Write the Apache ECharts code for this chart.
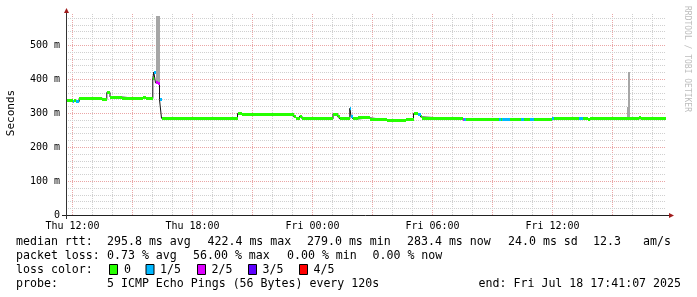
<!DOCTYPE html>
<html><head><meta charset="utf-8">
<script src="https://cdn.jsdelivr.net/npm/echarts@6/dist/echarts.min.js"></script>
<style>html,body{margin:0;padding:0;background:#fff}#c{width:697px;height:297px}</style>
</head><body><div id="c"></div>
<script>
// ---- data (time in hours since Thu 00:00, rtt in ms) ----
const tStart = 11.675;
const tEnd = 41.675;
const yMaxSec = 0.59412;

const xLabelHours = [12, 18, 24, 30, 36];
const xLabelTexts = ['Thu 12:00', 'Thu 18:00', 'Fri 00:00', 'Fri 06:00', 'Fri 12:00'];
const yLabelValues = [0, 0.1, 0.2, 0.3, 0.4, 0.5];
const yLabelTexts = ['0', '100 m', '200 m', '300 m', '400 m', '500 m'];

// median rtt segments: start hour, median ms, loss class (0..4 of 5)
const medStart = [11.675, 12.00, 12.10, 12.165, 12.335, 13.465, 13.715, 13.875, 14.45, 15.50,
  15.65, 16.015, 16.065, 16.15, 16.25, 16.35, 16.45, 20.25, 20.485, 23.065,
  23.15, 23.35, 23.475, 25.025, 25.265, 25.365, 25.865, 25.935, 26.035, 26.265,
  26.865, 27.735, 28.65, 29.05, 29.25, 29.40, 29.485, 30.90, 31.50, 31.565,
  31.665, 33.315, 33.40, 33.485, 33.865, 34.435, 34.565, 34.85, 35.05, 35.985,
  36.065, 37.315, 37.535, 37.75, 37.85, 40.335, 40.435];
const medMs = [337, 335, 337, 335, 345, 341, 362, 348.5, 343.5, 347,
  344, 402, 422, 390, 387, 341, 286, 300, 297, 290,
  285, 292, 284, 298.5, 290, 284, 315, 290, 284, 287,
  282, 279, 283, 300, 296, 290, 286, 284, 283, 283,
  282, 282, 282, 282, 282, 282, 282, 282, 282, 285,
  285, 285, 285, 282, 284.5, 288, 284.5];
const medLoss = [0, 1, 0, 1, 0, 0, 0, 0, 0, 0,
  0, 0, 1, 2, 2, 1, 0, 0, 0, 0,
  0, 0, 0, 0, 0, 0, 1, 1, 0, 0,
  0, 0, 0, 0, 1, 0, 0, 0, 2, 1,
  0, 1, 0, 1, 0, 1, 0, 1, 0, 1,
  0, 1, 0, 0, 0, 0, 0];

// smoke (ping spread) blocks
const smokeStart = [16.15, 39.735, 39.75];
const smokeEnd = [16.35, 39.865, 39.85];
const smokeLowMs = [390, 284, 320];
const smokeHighMs = [588, 320, 423];

const lossColors = ['#26ff00', '#00b8ff', '#dd00ff', '#5e00ff', '#ff0000'];
const lossLabels = ['0', '1/5', '2/5', '3/5', '4/5'];

const legendRow1 = ['median rtt:', '295.8 ms avg', '422.4 ms max', '279.0 ms min', '283.4 ms now', '24.0 ms sd', '12.3', 'am/s'];
const legendRow2 = ['packet loss:', '0.73 % avg', '56.00 % max', '0.00 % min', '0.00 % now'];
const legendRow3 = 'loss color:';
const legendRow4 = ['probe:', '5 ICMP Echo Pings (56 Bytes) every 120s'];
const legendEnd = 'end: Fri Jul 18 17:41:07 2025';

// ---- layout (pixel positions of legend items) ----
const row1X = [16, 107, 207.5, 307, 407, 508, 593, 643];
const row2X = [16, 107, 193, 287, 372.5];
const row4X = [16, 107];
const boxX = [109, 145.5, 197, 248, 299];
const boxLabelX = [124, 160, 211.5, 262.5, 313.5];

const MONO = 'DejaVu Sans Mono';
const medItems = medStart.map((s, i) => [s, i + 1 < medStart.length ? medStart[i + 1] : tEnd, medMs[i] / 1000, medLoss[i]]);
const stepData = medStart.map((s, i) => [s, medMs[i] / 1000]);
stepData.push([tEnd, medMs[medMs.length - 1] / 1000]);
const smokeItems = smokeStart.map((s, i) => [s, smokeEnd[i], smokeLowMs[i] / 1000, smokeHighMs[i] / 1000]);

// grid lines: [value, orientation(0 = vertical/hour, 1 = horizontal/seconds), major]
const gridItems = [];
for (let h = 12; h < tEnd; h++) gridItems.push([h, 0, h % 3 === 0 ? 1 : 0]);
for (let ms = 20; ms / 1000 < yMaxSec; ms += 20) gridItems.push([ms / 1000, 1, ms % 100 === 0 ? 1 : 0]);
const minorCol = '#d0d0d0', majorCol = '#eaa6a6';

const chart = echarts.init(document.getElementById('c'), null, { renderer: 'canvas' });

const legendGraphics = [];
function txt(x, y, t, extra) {
  legendGraphics.push({ type: 'text', x: x, y: y, silent: true,
    style: Object.assign({ text: t, font: '11.6px "' + MONO + '"', fill: '#000', verticalAlign: 'middle' }, extra || {}) });
}
legendRow1.forEach((t, i) => txt(row1X[i], 241.5, t));
legendRow2.forEach((t, i) => txt(row2X[i], 255.5, t));
txt(16, 269.5, legendRow3);
legendRow4.forEach((t, i) => txt(row4X[i], 283.5, t));
txt(681, 283.5, legendEnd, { align: 'right' });
lossLabels.forEach((l, i) => {
  legendGraphics.push({ type: 'rect', silent: true, shape: { x: boxX[i] + 0.5, y: 264.5, width: 8, height: 10 },
    style: { fill: lossColors[i], stroke: '#000', lineWidth: 1 } });
  txt(boxLabelX[i], 269.5, l);
});

chart.setOption({
  animation: false,
  backgroundColor: '#fff',
  grid: { left: 66, top: 13.5, width: 600, height: 202 },
  xAxis: {
    type: 'value', min: tStart, max: tEnd, z: 10,
    axisLine: { show: false },
    axisTick: { show: false },
    splitLine: { show: false },
    axisLabel: {
      customValues: xLabelHours, margin: 6,
      formatter: v => { const i = xLabelHours.indexOf(Math.round(v)); return i >= 0 ? xLabelTexts[i] : ''; },
      fontFamily: MONO, fontSize: 10, color: '#000'
    }
  },
  yAxis: {
    type: 'value', min: 0, max: yMaxSec, z: 10,
    axisLine: { show: false },
    axisTick: { show: false },
    splitLine: { show: false },
    axisLabel: {
      customValues: yLabelValues, margin: 6,
      formatter: v => { const i = yLabelValues.findIndex(x => Math.abs(x - v) < 1e-6); return i >= 0 ? yLabelTexts[i] : ''; },
      fontFamily: MONO, fontSize: 10, color: '#000'
    }
  },
  series: [
    { type: 'custom', name: 'grid', z: 1, silent: true, clip: false,
      data: gridItems, encode: { x: -1, y: -1 },
      renderItem: (params, api) => {
        const v = api.value(0), horiz = api.value(1) === 1;
        const col = api.value(2) === 1 ? majorCol : minorCol;
        const lo = api.coord([tStart, 0]), hi = api.coord([tEnd, yMaxSec]);
        let shape;
        if (horiz) {
          const y = Math.floor(api.coord([tStart, v])[1]) + 0.5;
          shape = { x1: Math.round(lo[0]), y1: y, x2: Math.round(hi[0]), y2: y };
        } else {
          const x = Math.floor(api.coord([v, 0])[0]) + 0.5;
          shape = { x1: x, y1: Math.floor(lo[1]), x2: x, y2: Math.floor(hi[1]) };
        }
        return { type: 'line', shape: shape, style: { stroke: col, lineWidth: 1, lineDash: [1, 1] } };
      } },
    { type: 'custom', name: 'smoke', z: 2, silent: true, clip: true,
      encode: { x: [0, 1], y: [2, 3] }, data: smokeItems,
      renderItem: (params, api) => {
        const a = api.coord([api.value(0), api.value(3)]);
        const b = api.coord([api.value(1), api.value(2)]);
        const x = Math.round(a[0]), y = Math.round(a[1]);
        return { type: 'rect', shape: { x: x, y: y, width: Math.round(b[0]) - x, height: Math.round(b[1]) - y },
          style: { fill: '#a6a6a6' } };
      } },
    { type: 'line', name: 'median', z: 3, data: stepData, step: 'end', symbol: 'none', silent: true,
      lineStyle: { color: '#111', width: 1 } },
    { type: 'custom', name: 'loss', z: 4, silent: true, clip: true,
      encode: { x: [0, 1], y: 2 }, data: medItems,
      renderItem: (params, api) => {
        const a = api.coord([api.value(0), api.value(2)]);
        const b = api.coord([api.value(1), api.value(2)]);
        const x = Math.round(a[0]), y = Math.round(a[1] - 1.5);
        return { type: 'rect', shape: { x: x, y: y, width: Math.round(b[0]) - x, height: 3 },
          style: { fill: lossColors[api.value(3)] } };
      } }
  ],
  graphic: [
    { type: 'line', silent: true, z: 100, shape: { x1: 62, y1: 215.5, x2: 669, y2: 215.5 }, style: { stroke: '#222', lineWidth: 1 } },
    { type: 'line', silent: true, z: 100, shape: { x1: 66.5, y1: 219, x2: 66.5, y2: 10 }, style: { stroke: '#333', lineWidth: 1 } },
    { type: 'polygon', silent: true, z: 100, shape: { points: [[64, 13], [69, 13], [66.5, 8]] }, style: { fill: '#a01c1c' } },
    { type: 'polygon', silent: true, z: 100, shape: { points: [[669, 213], [669, 218], [674, 215.5]] }, style: { fill: '#a01c1c' } },
    { type: 'text', x: 11, y: 113, rotation: Math.PI / 2, silent: true,
      style: { text: 'Seconds', font: '11px "' + MONO + '"', fill: '#000', align: 'center', verticalAlign: 'middle' } },
    { type: 'text', x: 687, y: 59, rotation: -Math.PI / 2, silent: true,
      style: { text: 'RRDTOOL / TOBI OETIKER', font: '8px "' + MONO + '"', fill: '#bdbdbd', align: 'center', verticalAlign: 'middle' } }
  ].concat(legendGraphics)
});
</script>
</body></html>
